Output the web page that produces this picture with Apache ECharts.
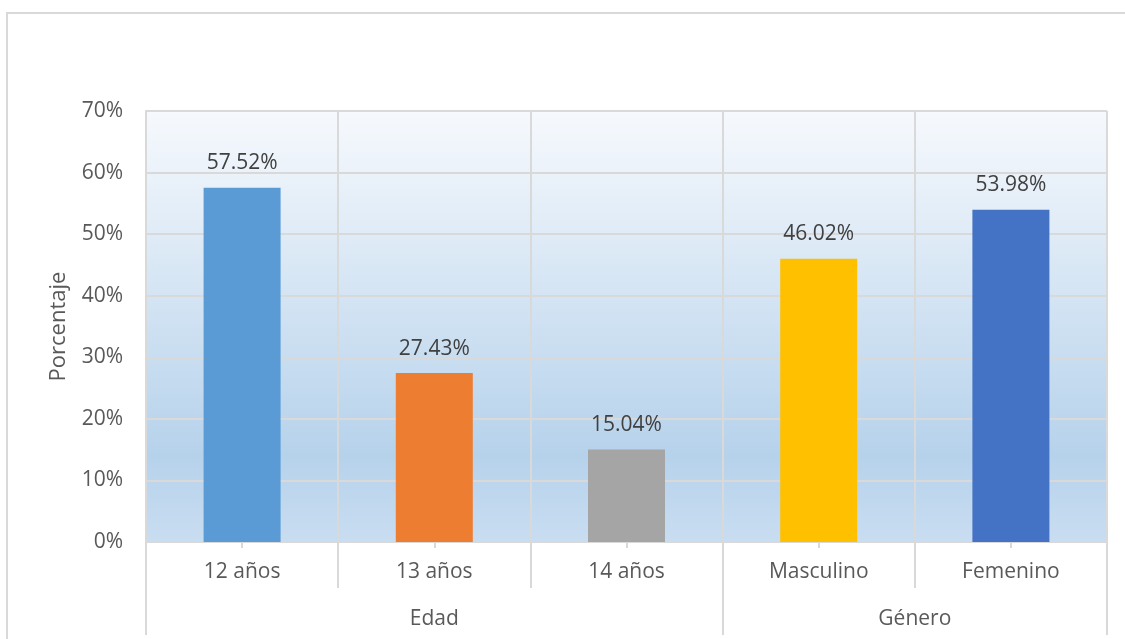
<!DOCTYPE html>
<html>
<head>
<meta charset="utf-8">
<script src="https://cdn.jsdelivr.net/npm/echarts@6/dist/echarts.min.js"></script>
<style>
  html, body { margin: 0; padding: 0; background: #fff; overflow: hidden; }
  #frame {
    position: absolute; left: 6px; top: 12px; width: 1200px; height: 700px;
    border-left: 2px solid #d9d9d9; border-top: 2px solid #d9d9d9;
  }
  #chart { position: absolute; left: 0; top: 0; width: 1125px; height: 639px; }
</style>
</head>
<body>
<div id="frame"></div>
<div id="chart"></div>
<script>
// categorias y valores (%)
const categorias = ['12 años', '13 años', '14 años', 'Masculino', 'Femenino']
const valores = [57.52, 27.43, 15.04, 46.02, 53.98]
const colores = ['#5B9BD5', '#ED7D31', '#A5A5A5', '#FFC000', '#4472C4']
// segundo nivel: media-posiciones 0..10, grupo centrado en su rango
const grupos = ['', '', '', 'Edad', '', '', '', '', 'Género', '', '']
const cortesGrupo = [0, 6, 10]
const ticksY = [0, 10, 20, 30, 40, 50, 60, 70]

const fuente = 'Open Sans'
const gris = '#d9d9d9'
const tam = 21

const chart = echarts.init(document.getElementById('chart'))
chart.setOption({
  backgroundColor: 'transparent',
  textStyle: { fontFamily: fuente },
  grid: {
    left: 146, right: 18, top: 111, bottom: 97,
    show: true,
    borderWidth: 0,
    backgroundColor: new echarts.graphic.LinearGradient(0, 0, 0, 1, [
      { offset: 0, color: '#f6f9fd' },
      { offset: 0.8, color: '#b6d2eb' },
      { offset: 1, color: '#c9ddf1' }
    ])
  },
  xAxis: [
    {
      type: 'category',
      data: categorias,
      position: 'bottom',
      axisLine: { lineStyle: { color: gris, width: 2 } },
      axisTick: { show: true, alignWithLabel: false, length: 46, lineStyle: { color: gris, width: 2 } },
      splitLine: { show: true, lineStyle: { color: gris, width: 2 } },
      axisLabel: { color: '#595959', fontSize: tam, margin: 20, interval: 0 }
    },
    {
      type: 'category',
      data: categorias,
      position: 'bottom',
      axisLine: { show: false },
      axisTick: { show: true, alignWithLabel: true, length: 6, lineStyle: { color: gris, width: 2 } },
      splitLine: { show: false },
      axisLabel: { show: false }
    },
    {
      type: 'category',
      data: grupos,
      position: 'bottom',
      boundaryGap: false,
      axisLine: { show: false },
      axisTick: {
        show: true, length: 93,
        interval: (i) => cortesGrupo.includes(i),
        lineStyle: { color: gris, width: 2 }
      },
      splitLine: { show: false },
      axisLabel: { color: '#595959', fontSize: tam, margin: 67, interval: 0 }
    }
  ],
  yAxis: {
    type: 'value',
    min: ticksY[0],
    max: ticksY[ticksY.length - 1],
    interval: 10,
    name: 'Porcentaje',
    nameLocation: 'middle',
    nameGap: 76,
    nameTextStyle: { color: '#595959', fontSize: 22 },
    axisLine: { show: true, lineStyle: { color: gris, width: 2 } },
    axisTick: { show: false },
    splitLine: { lineStyle: { color: gris, width: 2 } },
    axisLabel: { color: '#595959', fontSize: tam, margin: 23, formatter: '{value}%' }
  },
  series: [
    {
      type: 'bar',
      xAxisIndex: 0,
      barWidth: 77,
      data: valores.map((v, i) => ({ value: v, itemStyle: { color: colores[i] } })),
      label: {
        show: true,
        position: 'top',
        distance: 14,
        color: '#404040',
        fontSize: tam,
        formatter: (p) => p.value.toFixed(2) + '%'
      }
    }
  ]
})
</script>
</body>
</html>
